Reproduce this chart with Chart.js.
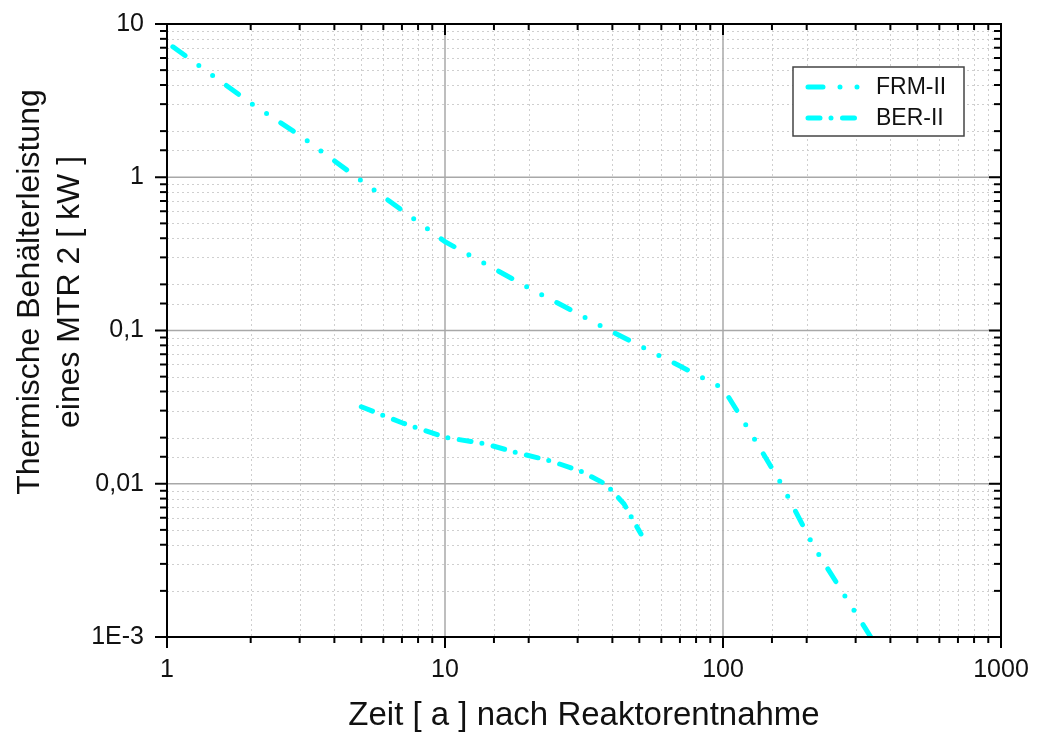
<!DOCTYPE html>
<html>
<head>
<meta charset="utf-8">
<script src="https://cdn.jsdelivr.net/npm/chart.js@4/dist/chart.umd.min.js"></script>
<style>
  body { margin: 0; background: #fff; }
  #chart { display: block; }
</style>
</head>
<body>
<canvas id="chart" width="1037" height="738"></canvas>
<script>
// data (x = years, y = kW)
const frmYears = [1.05, 2, 3, 5, 10, 20, 40, 70, 100, 123, 162, 212, 340];
const frmPower = [7.1, 3.05, 1.88, 0.95, 0.38, 0.19, 0.098, 0.0586, 0.042, 0.023, 0.01, 0.0039, 0.001];
const berYears = [5, 7, 10, 14, 18, 24, 31, 38, 44, 50.7];
const berPower = [0.0318, 0.025, 0.0201, 0.0182, 0.016, 0.0141, 0.012, 0.0099, 0.0074, 0.0047];

const seriesNames = ['FRM-II', 'BER-II'];
const xTickValues = [1, 10, 100, 1000];
const xTickLabels = ['1', '10', '100', '1000'];
const yTickValues = [0.001, 0.01, 0.1, 1, 10];
const yTickLabels = ['1E-3', '0,01', '0,1', '1', '10'];
const yTitleLines = ['Thermische Behälterleistung', 'eines MTR 2 [ kW ]'];

const CYAN = '#00ffff';
const FONT = "'Liberation Sans', Arial, sans-serif";

function toPoints(xs, ys) {
    return xs.map((x, i) => ({ x: x, y: ys[i] }));
}

function labelFor(values, labels, v) {
    for (let i = 0; i < values.length; i++) {
        if (Math.abs(Math.log10(v) - Math.log10(values[i])) < 1e-6) return labels[i];
    }
    return '';
}

function isMajor(v) {
    const l = Math.log10(v);
    return Math.abs(l - Math.round(l)) < 1e-6;
}

// grid, frame with ticks on all sides, the y title and the boxed legend
const framePlugin = {
    id: 'frame',
    beforeDatasetsDraw(chart) {
        const ctx = chart.ctx;
        const a = chart.chartArea;
        const xs = chart.scales.x, ys = chart.scales.y;
        ctx.save();
        // minor grid
        ctx.strokeStyle = '#cfcfcf';
        ctx.lineWidth = 1;
        ctx.setLineDash([2, 3]);
        xs.ticks.forEach(t => {
            if (isMajor(t.value)) return;
            const px = Math.round(xs.getPixelForValue(t.value)) + 0.5;
            ctx.beginPath(); ctx.moveTo(px, a.top); ctx.lineTo(px, a.bottom); ctx.stroke();
        });
        ys.ticks.forEach(t => {
            if (isMajor(t.value)) return;
            const py = Math.round(ys.getPixelForValue(t.value)) + 0.5;
            ctx.beginPath(); ctx.moveTo(a.left, py); ctx.lineTo(a.right, py); ctx.stroke();
        });
        // major grid
        ctx.setLineDash([]);
        ctx.strokeStyle = '#a8a8a8';
        ctx.lineWidth = 1.5;
        xs.ticks.forEach(t => {
            if (!isMajor(t.value)) return;
            const px = xs.getPixelForValue(t.value);
            ctx.beginPath(); ctx.moveTo(px, a.top); ctx.lineTo(px, a.bottom); ctx.stroke();
        });
        ys.ticks.forEach(t => {
            if (!isMajor(t.value)) return;
            const py = ys.getPixelForValue(t.value);
            ctx.beginPath(); ctx.moveTo(a.left, py); ctx.lineTo(a.right, py); ctx.stroke();
        });
        ctx.restore();
    },
    afterDatasetsDraw(chart) {
        const ctx = chart.ctx;
        const a = chart.chartArea;
        const xs = chart.scales.x, ys = chart.scales.y;
        ctx.save();
        ctx.strokeStyle = '#000';
        ctx.lineWidth = 2;
        ctx.strokeRect(a.left, a.top, a.right - a.left, a.bottom - a.top);
        xs.ticks.forEach(t => {
            const px = xs.getPixelForValue(t.value);
            const len = isMajor(t.value) ? 11 : 6;
            ctx.beginPath(); ctx.moveTo(px, a.bottom); ctx.lineTo(px, a.bottom + len); ctx.stroke();
            ctx.beginPath(); ctx.moveTo(px, a.top); ctx.lineTo(px, a.top + len); ctx.stroke();
        });
        ys.ticks.forEach(t => {
            const py = ys.getPixelForValue(t.value);
            const len = isMajor(t.value) ? 12 : 7;
            ctx.beginPath(); ctx.moveTo(a.left, py); ctx.lineTo(a.left - len, py); ctx.stroke();
            ctx.beginPath(); ctx.moveTo(a.right, py); ctx.lineTo(a.right - len, py); ctx.stroke();
        });

        // y axis title, sits a bit above the plot centre like the original
        ctx.save();
        ctx.translate(0, 292);
        ctx.rotate(-Math.PI / 2);
        ctx.fillStyle = '#111';
        ctx.font = '32px ' + FONT;
        ctx.textAlign = 'center';
        ctx.textBaseline = 'middle';
        ctx.fillText(yTitleLines[0], 0, 30);
        ctx.fillText(yTitleLines[1], 0, 70);
        ctx.restore();

        // legend
        const bx = 793, by = 67, bw = 171, bh = 69;
        ctx.fillStyle = '#fff';
        ctx.fillRect(bx, by, bw, bh);
        ctx.strokeStyle = '#444';
        ctx.lineWidth = 1.5;
        ctx.strokeRect(bx, by, bw, bh);
        chart.data.datasets.forEach((ds, i) => {
            const cy = by + 20 + i * 31;
            ctx.strokeStyle = ds.borderColor;
            ctx.lineWidth = ds.borderWidth;
            ctx.lineCap = 'round';
            ctx.setLineDash(ds.borderDash);
            ctx.beginPath(); ctx.moveTo(808, cy); ctx.lineTo(858, cy); ctx.stroke();
            ctx.setLineDash([]);
            ctx.fillStyle = '#111';
            ctx.font = '23px ' + FONT;
            ctx.textBaseline = 'middle';
            ctx.textAlign = 'left';
            ctx.fillText(ds.label, 876, cy + 1);
        });
        ctx.restore();
    }
};

new Chart(document.getElementById('chart'), {
    type: 'line',
    data: {
        datasets: [
            {
                label: seriesNames[0],
                data: toPoints(frmYears, frmPower),
                borderColor: CYAN,
                borderWidth: 5,
                borderDash: [15, 17, 0, 17, 0, 17],
                borderCapStyle: 'round',
                pointRadius: 0,
                fill: false
            },
            {
                label: seriesNames[1],
                data: toPoints(berYears, berPower),
                borderColor: CYAN,
                borderWidth: 5,
                borderDash: [12, 11, 0, 11.5],
                borderCapStyle: 'round',
                pointRadius: 0,
                fill: false
            }
        ]
    },
    options: {
        responsive: false,
        animation: false,
        layout: { padding: { top: 24, right: 36, bottom: 0, left: 0 } },
        plugins: {
            legend: { display: false },
            tooltip: { enabled: false }
        },
        scales: {
            x: {
                type: 'logarithmic',
                min: 1,
                max: 1000,
                grid: { display: false },
                border: { display: false },
                afterFit: s => { s.height = 101; s.paddingLeft = 0; s.paddingRight = 0; },
                ticks: {
                    autoSkip: false,
                    maxRotation: 0,
                    padding: 10,
                    color: '#111',
                    font: { family: FONT, size: 25 },
                    callback: v => labelFor(xTickValues, xTickLabels, v)
                },
                title: {
                    display: true,
                    text: 'Zeit [ a ] nach Reaktorentnahme',
                    color: '#111',
                    font: { family: FONT, size: 33 },
                    padding: { top: 0, bottom: 2 }
                }
            },
            y: {
                type: 'logarithmic',
                min: 0.001,
                max: 10,
                grid: { display: false },
                border: { display: false },
                afterFit: s => { s.width = 167; s.paddingTop = 0; s.paddingBottom = 0; },
                ticks: {
                    autoSkip: false,
                    padding: 15,
                    color: '#111',
                    font: { family: FONT, size: 25 },
                    callback: v => labelFor(yTickValues, yTickLabels, v)
                },
                title: { display: false }
            }
        }
    },
    plugins: [framePlugin]
});
</script>
</body>
</html>
